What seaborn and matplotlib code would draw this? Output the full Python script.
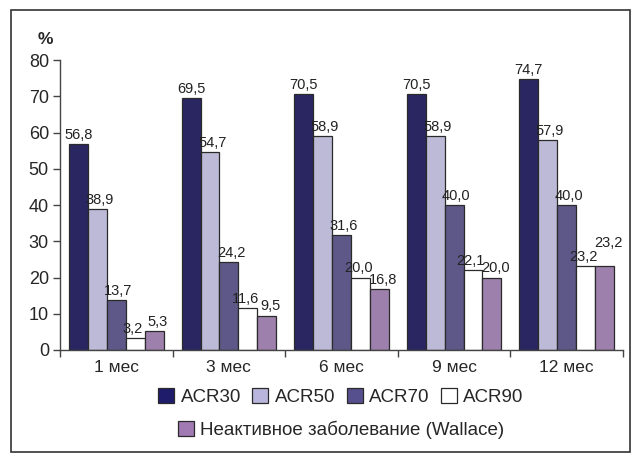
import pandas as pd
import seaborn as sns
import matplotlib.pyplot as plt
from matplotlib.patches import Rectangle, Patch
from matplotlib import font_manager

# данные
periods = ['1 мес', '3 мес', '6 мес', '9 мес', '12 мес']
series = ['ACR30', 'ACR50', 'ACR70', 'ACR90', 'Неактивное заболевание (Wallace)']
acr30 = [56.8, 69.5, 70.5, 70.5, 74.7]
acr50 = [38.9, 54.7, 58.9, 58.9, 57.9]
acr70 = [13.7, 24.2, 31.6, 40.0, 40.0]
acr90 = [3.2, 11.6, 20.0, 22.1, 23.2]
wallace = [5.3, 9.5, 16.8, 20.0, 23.2]

colors = ['#201c6c', '#b9b5dc', '#57508f', '#ffffff', '#a179b3']

rows = []
for name, vals in zip(series, [acr30, acr50, acr70, acr90, wallace]):
    for p, v in zip(periods, vals):
        rows.append({'period': p, 'series': name, 'value': v})
df = pd.DataFrame(rows)

sns.set_style('white')
plt.rcParams['font.family'] = ['Liberation Sans', 'DejaVu Sans']

names = {f.name for f in font_manager.fontManager.ttflist}
narrow = 'Liberation Sans Narrow' if 'Liberation Sans Narrow' in names else 'Liberation Sans'

fig = plt.figure(figsize=(6.4, 4.55), dpi=100)
ax = fig.add_axes([60 / 640, 1 - 350 / 455, 563 / 640, 290 / 455])

sns.barplot(data=df, x='period', y='value', hue='series', palette=colors,
            width=0.84, edgecolor='#2a2a2a', linewidth=0.9, ax=ax, legend=False)

# подписи значений (сдвиг по x для каждой серии, чтобы не слипались)
shift = [0.0, 0.02, 0.02, -0.02, 0.035]
for k, cont in enumerate(ax.containers):
    for j, bar in enumerate(cont):
        h = bar.get_height()
        extra = 0
        if k == 4 and j == 4:
            extra = 3.8  # поднять, чтобы не налезало на ACR90
        ax.text(bar.get_x() + bar.get_width() / 2 + shift[k], h + 0.6 + extra,
                f'{h:.1f}'.replace('.', ','), ha='center', va='bottom',
                fontsize=10.5, color='#222222', family=[narrow, 'DejaVu Sans'])

ax.set_ylim(0, 80)
ax.set_xlim(-0.5, 4.5)
ax.set_yticks(range(0, 81, 10))
ax.set_xticks([i - 0.5 for i in range(6)], minor=False)
ax.set_xticklabels([])
ax.set_xticks(range(5), minor=True)
ax.set_xticklabels(periods, minor=True, fontsize=12.5)
ax.tick_params(axis='x', which='minor', bottom=False, length=0, pad=7)
ax.tick_params(axis='x', which='major', bottom=True, direction='out', length=5,
               width=1, color='#444444')
ax.tick_params(axis='y', left=True, direction='out', length=5, width=1, color='#444444',
               labelsize=13, pad=3)
ax.set_xlabel('')
ax.set_ylabel('')
for s in ['top', 'right']:
    ax.spines[s].set_visible(False)
for s in ['left', 'bottom']:
    ax.spines[s].set_color('#444444')
    ax.spines[s].set_linewidth(1.0)

fig.text(53 / 640, 1 - 40 / 455, '%', fontsize=12.5, fontweight='bold', ha='right', va='center')

# легенда в две строки
handles = [Patch(facecolor=c, edgecolor='#2a2a2a', linewidth=0.9) for c in colors]
fig.legend(handles[:4], series[:4], loc='center', bbox_to_anchor=(341 / 640, 1 - 397 / 455),
           ncol=4, frameon=False, fontsize=13.5, handlelength=0.85, handleheight=0.85,
           handletextpad=0.35, columnspacing=0.6)
fig.legend(handles[4:], series[4:], loc='center', bbox_to_anchor=(341 / 640, 1 - 430 / 455),
           frameon=False, fontsize=13.5, handlelength=0.85, handleheight=0.85, handletextpad=0.35)

# рамка вокруг рисунка
fig.patches.append(Rectangle((11 / 640, 3 / 455), 619 / 640, 442 / 455, transform=fig.transFigure,
                             fill=False, edgecolor='#333333', linewidth=1.2))

fig.savefig('out.png', dpi=100)
